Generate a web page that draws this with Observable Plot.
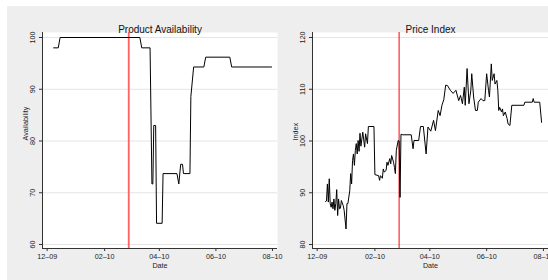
<!DOCTYPE html>
<html><head><meta charset="utf-8">
<script src="https://cdn.jsdelivr.net/npm/d3@7"></script>
<script src="https://cdn.jsdelivr.net/npm/@observablehq/plot@0.6"></script>
<style>
html,body{margin:0;padding:0;background:#fff;}
#wrap{position:absolute;left:7px;top:6px;width:541px;height:274px;background:#eeeeee;overflow:hidden;}
#left{position:absolute;left:0;top:0;}
#right{position:absolute;left:270px;top:0;}
</style></head><body><div id="wrap"><div id="right"></div><div id="left"></div></div>
<script>
// ---- data ----
const availDates = ["2009-12-08","2009-12-13","2009-12-15","2010-03-11","2010-03-13","2010-03-22","2010-03-24","2010-03-25","2010-03-26","2010-03-28","2010-03-29","2010-04-04","2010-04-05","2010-04-20","2010-04-22","2010-04-24","2010-04-26","2010-04-27","2010-05-04","2010-05-05","2010-05-08","2010-05-19","2010-05-21","2010-06-16","2010-06-18","2010-07-31"];
const availValues = [98,98,100,100,98,98,71.7,71.7,83,83,64.1,64.1,73.7,73.7,71.7,75.5,75.5,73.7,73.7,88.6,94.3,94.3,96.2,96.2,94.3,94.3];

const priceDates = ["2009-12-10","2009-12-11","2009-12-12","2009-12-13","2009-12-14","2009-12-15","2009-12-16","2009-12-17","2009-12-18","2009-12-19","2009-12-20","2009-12-21","2009-12-22","2009-12-23","2009-12-24","2009-12-25","2009-12-26","2009-12-27","2009-12-29","2009-12-30","2010-01-01","2010-01-02","2010-01-03","2010-01-05","2010-01-06","2010-01-07","2010-01-08","2010-01-09","2010-01-10","2010-01-11","2010-01-12","2010-01-13","2010-01-14","2010-01-15","2010-01-16","2010-01-17","2010-01-19","2010-01-21","2010-01-22","2010-01-24","2010-01-25","2010-01-31","2010-02-01","2010-02-05","2010-02-06","2010-02-07","2010-02-09","2010-02-10","2010-02-11","2010-02-13","2010-02-14","2010-02-15","2010-02-17","2010-02-18","2010-02-19","2010-02-21","2010-02-22","2010-02-23","2010-02-24","2010-02-26","2010-02-27","2010-02-28","2010-03-01","2010-03-03","2010-03-12","2010-03-14","2010-03-15","2010-03-20","2010-03-22","2010-03-25","2010-03-28","2010-03-30","2010-04-02","2010-04-05","2010-04-07","2010-04-10","2010-04-12","2010-04-14","2010-04-16","2010-04-18","2010-04-20","2010-04-23","2010-04-26","2010-04-29","2010-05-02","2010-05-04","2010-05-06","2010-05-08","2010-05-09","2010-05-11","2010-05-13","2010-05-15","2010-05-16","2010-05-18","2010-05-20","2010-05-22","2010-05-23","2010-05-26","2010-05-28","2010-05-30","2010-06-01","2010-06-03","2010-06-04","2010-06-06","2010-06-07","2010-06-09","2010-06-10","2010-06-12","2010-06-13","2010-06-14","2010-06-15","2010-06-17","2010-06-18","2010-06-19","2010-06-21","2010-06-23","2010-06-24","2010-06-26","2010-06-28","2010-07-11","2010-07-12","2010-07-20","2010-07-21","2010-07-22","2010-07-28","2010-07-30"];
const priceValues = [88.3,88.4,91.7,88.2,92.7,87.9,87.2,88.2,86.9,88.8,86.6,87.9,90.6,85.6,88.8,86.9,87.0,88.5,87.5,86.6,83.0,87.9,87.9,90.4,93.7,91.7,96.2,97.5,95.3,98.2,99.5,97.5,100.1,98.0,101.5,99.0,101.7,98.8,101.4,99.5,102.8,102.8,93.5,93.3,92.4,93.3,92.8,94.6,94.0,94.3,95.9,95.3,96.6,95.6,97.2,95.9,94.9,93.7,98.2,100.1,100.0,89.1,101.3,101.2,101.2,98.5,100.1,100.1,102.8,102.8,97.5,102.7,101.9,104.0,102.0,105.9,104.9,106.9,108.0,110.8,110.7,109.8,109.2,109.8,107.8,108.8,107.2,110.4,106.9,114.0,107.2,109.8,113.0,108.5,105.9,105.9,107.5,108.2,107.8,107.8,113.0,109.8,108.5,114.9,111.7,113.0,111.0,111.7,109.8,105.9,106.5,105.6,106.2,104.9,105.6,104.3,103.3,103.0,106.9,106.9,107.5,107.5,108.2,107.5,107.5,103.6];

const eventDate = "2010-02-27";
const xTickDates = ["2009-12-01","2010-02-01","2010-04-01","2010-06-01","2010-08-01"];
const availTicks = [60,70,80,90,100];
const priceTicks = [80,90,100,110,120];
const titles = ["Product Availability","Price Index"];
const yLabels = ["Availability","Index"];
const xLabel = "Date";

// ---- drawing ----
const xDomain = [new Date("2009-11-26T00:00Z"), new Date("2010-08-06T10:00Z")];
const fmt = d3.utcFormat("%m\u2013%y");

function panel({dates, values, ticks, title, ylabel, width, eventStroke, eventWidth}) {
  const data = dates.map((d, i) => ({date: new Date(d), value: values[i]}));
  const lo = ticks[0], hi = ticks[ticks.length - 1];
  const pad = (hi - lo) / (244 - 37);
  const yDomain = [lo - 4 * pad, hi + 5 * pad];
  return Plot.plot({
    width, height: 274,
    marginLeft: 35, marginRight: 0, marginTop: 26, marginBottom: 32,
    style: {background: "transparent", color: "#222", fontFamily: "'Liberation Sans', Arial, sans-serif", fontSize: "7.2px", overflow: "visible"},
    x: {type: "utc", domain: xDomain},
    y: {domain: yDomain},
    marks: [
      Plot.frame({fill: "white", stroke: "none"}),
      Plot.gridY(ticks, {stroke: "#e4e4e4", strokeOpacity: 1, strokeWidth: 1}),
      Plot.ruleX([new Date(eventDate)], {stroke: eventStroke, strokeWidth: eventWidth}),
      Plot.line(data, {x: "date", y: "value", stroke: "black", strokeWidth: 1}),
      Plot.ruleX([xDomain[0]], {stroke: "#333", strokeWidth: 1}),
      Plot.ruleY([yDomain[0]], {stroke: "#333", strokeWidth: 1}),
      Plot.axisX(xTickDates.map(d => new Date(d)), {tickFormat: fmt, tickSize: 3, tickPadding: 2.5, label: null, stroke: "#333"}),
      Plot.axisY(ticks, {tickRotate: -90, tickSize: 3, tickPadding: 4.5, label: null, stroke: "#333"}),
      Plot.text([title], {frameAnchor: "top", dy: -6.5, fontSize: 10, fill: "#111"}),
      Plot.text([ylabel], {frameAnchor: "left", rotate: -90, dx: -17, fontSize: 7.2}),
      Plot.text([xLabel], {frameAnchor: "bottom", dy: 19, fontSize: 7.2})
    ]
  });
}

document.getElementById("left").appendChild(panel({dates: availDates, values: availValues, ticks: availTicks, title: titles[0], ylabel: yLabels[0], width: 270, eventStroke: "#ff6262", eventWidth: 1.8}));
document.getElementById("right").appendChild(panel({dates: priceDates, values: priceValues, ticks: priceTicks, title: titles[1], ylabel: yLabels[1], width: 271, eventStroke: "red", eventWidth: 1}));
</script>
</body></html>
